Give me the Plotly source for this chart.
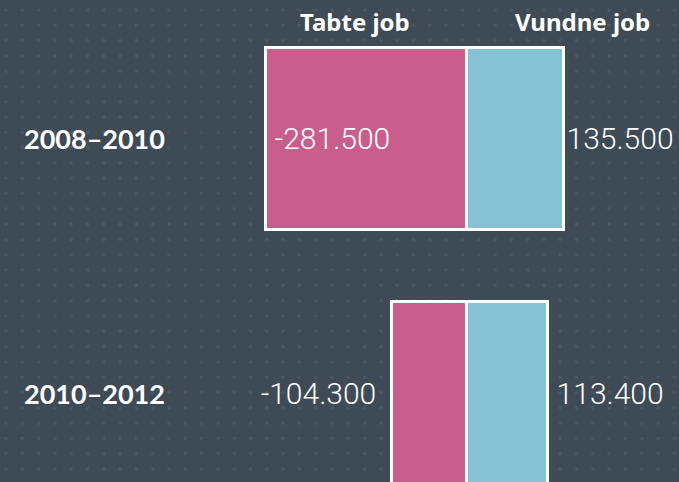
import base64
import plotly.graph_objects as go

# Data (antal job)
periods = ["2008–2010", "2010–2012"]
lost_jobs = [-281500, -104300]
won_jobs = [135500, 113400]
series_names = ["Tabte job", "Vundne job"]

BG = "#3e4a55"
DOT = "#4b5762"
PINK = "#c95e8c"
BLUE = "#87c1d4"
W, H = 679, 482
THIN = "\u2009"


def fmt(v):
    return f"{v:,}".replace(",", ".")


# dotted background as an svg pattern
svg = (
    f'<svg xmlns="http://www.w3.org/2000/svg" width="{W}" height="{H}">'
    '<defs><pattern id="p" x="-2" y="2" width="16.3" height="15.3" patternUnits="userSpaceOnUse">'
    f'<circle cx="8" cy="8" r="1.7" fill="{DOT}"/></pattern></defs>'
    f'<rect width="{W}" height="{H}" fill="url(#p)"/></svg>'
)
bg_uri = "data:image/svg+xml;base64," + base64.b64encode(svg.encode()).decode()

value_font = dict(family="Roboto", size=30, color="white", weight=300)

fig = go.Figure()
fig.add_trace(go.Bar(
    y=periods, x=lost_jobs, orientation="h", name=series_names[0],
    marker=dict(color=PINK, line=dict(color="white", width=3)),
    text=[THIN + fmt(lost_jobs[0]), fmt(lost_jobs[1]) + THIN + THIN],
    textposition=["inside", "outside"], insidetextanchor="end",
    textfont=value_font, outsidetextfont=value_font, insidetextfont=value_font,
    width=0.72, cliponaxis=False,
))
fig.add_trace(go.Bar(
    y=periods, x=won_jobs, orientation="h", name=series_names[1],
    marker=dict(color=BLUE, line=dict(color="white", width=3)),
    text=[fmt(won_jobs[0]), THIN + fmt(won_jobs[1])],
    textposition="outside",
    textfont=value_font, outsidetextfont=value_font,
    width=0.72, cliponaxis=False,
))

annotations = []
for p in periods:
    annotations.append(dict(
        x=22 / W, xref="paper", y=p, yref="y", text=p, showarrow=False,
        xanchor="left", yanchor="middle",
        font=dict(family="Lato", size=27, color="white", weight="bold"),
    ))
for name, cx in zip(series_names, [355, 582]):
    annotations.append(dict(
        x=cx / W, xref="paper", y=1 - 22 / H, yref="paper", text=name,
        showarrow=False, xanchor="center", yanchor="middle",
        font=dict(family="Noto Sans", size=24, color="white", weight="bold"),
    ))

fig.update_layout(
    width=W, height=H,
    margin=dict(l=0, r=0, t=0, b=0),
    paper_bgcolor=BG, plot_bgcolor=BG,
    barmode="relative", bargap=0,
    showlegend=False,
    xaxis=dict(range=[-654000, 297000], visible=False, fixedrange=True),
    yaxis=dict(range=[1.35, -0.547], visible=False, fixedrange=True),
    annotations=annotations,
    images=[dict(source=bg_uri, xref="paper", yref="paper", x=0, y=1,
                 sizex=1, sizey=1, sizing="stretch", layer="below")],
)

fig.write_html(
    "out.html",
    config={"displayModeBar": False},
    post_script="document.body.style.margin='0';document.body.style.overflow='hidden';",
)
